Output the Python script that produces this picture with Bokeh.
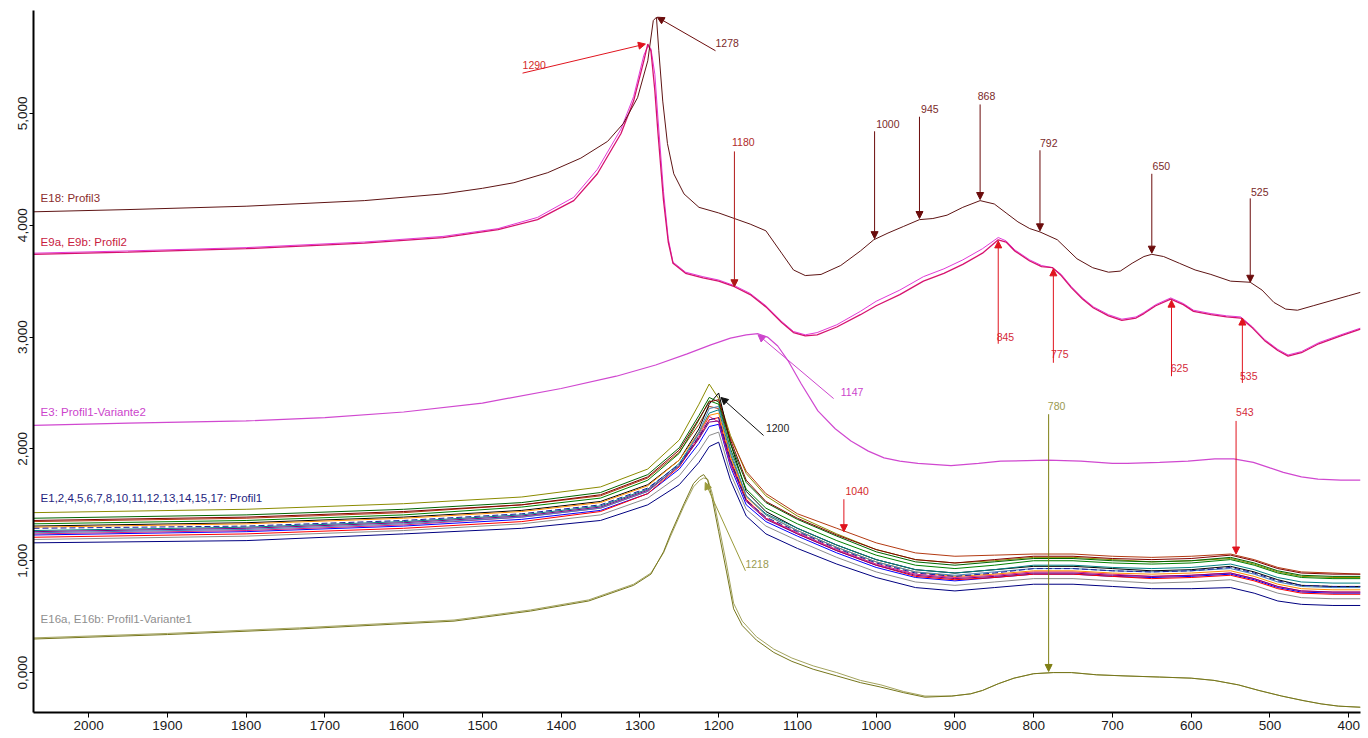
from bokeh.plotting import figure
from bokeh.models import Range1d, FixedTicker, Arrow, NormalHead, ColumnDataSource
from bokeh.core.properties import value
from bokeh.embed import file_html
from bokeh.resources import INLINE

# ---------------- axes ----------------
X_TICKS = [2000, 1900, 1800, 1700, 1600, 1500, 1400, 1300, 1200, 1100, 1000, 900, 800, 700, 600, 500, 400]
Y_TICKS = [0, 1, 2, 3, 4, 5]
Y_TICK_LABELS = ["0,000", "1,000", "2,000", "3,000", "4,000", "5,000"]

# ---------------- E18: Profil3 ----------------
W_E18 = [2070, 1950, 1800, 1650, 1550, 1500, 1460, 1417, 1375, 1341, 1321, 1303, 1290, 1283, 1279, 1276,
         1271, 1265, 1257, 1244, 1225, 1200, 1180, 1160, 1140, 1120, 1105, 1090, 1070, 1045, 1020, 1003,
         985, 965, 945, 928, 910, 890, 868, 850, 835, 820, 805, 792, 770, 745, 725, 705, 690, 675, 660,
         650, 635, 615, 595, 575, 550, 525, 510, 495, 480, 465, 445, 420, 400, 385]
V_E18 = [4.12, 4.14, 4.17, 4.22, 4.28, 4.33, 4.38, 4.47, 4.60, 4.75, 4.91, 5.14, 5.47, 5.83, 5.86, 5.56,
         5.11, 4.73, 4.46, 4.28, 4.16, 4.11, 4.06, 4.01, 3.95, 3.75, 3.60, 3.55, 3.56, 3.64, 3.77, 3.87,
         3.93, 3.99, 4.05, 4.06, 4.09, 4.16, 4.22, 4.19, 4.11, 4.03, 3.97, 3.94, 3.87, 3.70, 3.62, 3.58,
         3.59, 3.66, 3.72, 3.74, 3.72, 3.66, 3.60, 3.56, 3.50, 3.49, 3.42, 3.31, 3.25, 3.24, 3.28, 3.33,
         3.37, 3.40]

# ---------------- E9a, E9b: Profil2 ----------------
W_E9 = [2070, 1950, 1800, 1650, 1550, 1480, 1430, 1384, 1354, 1324, 1308, 1295, 1290, 1286, 1281, 1277,
        1270, 1264, 1258, 1242, 1220, 1200, 1180, 1160, 1140, 1120, 1105, 1090, 1075, 1050, 1020, 1000,
        970, 940, 914, 890, 865, 845, 835, 824, 805, 790, 776, 765, 752, 738, 724, 705, 688, 670, 660,
        645, 626, 610, 597, 575, 555, 537, 522, 507, 490, 477, 460, 438, 410, 385]
V_E9A = [3.74, 3.76, 3.79, 3.84, 3.89, 3.96, 4.05, 4.22, 4.46, 4.82, 5.11, 5.47, 5.62, 5.56, 5.20, 4.82,
         4.22, 3.85, 3.66, 3.57, 3.53, 3.50, 3.45, 3.38, 3.27, 3.13, 3.04, 3.01, 3.02, 3.09, 3.20, 3.28,
         3.38, 3.50, 3.57, 3.65, 3.75, 3.87, 3.85, 3.77, 3.68, 3.63, 3.62, 3.55, 3.44, 3.34, 3.26, 3.19,
         3.15, 3.17, 3.21, 3.28, 3.34, 3.29, 3.23, 3.20, 3.18, 3.17, 3.08, 2.97, 2.88, 2.83, 2.86, 2.94,
         3.01, 3.07]
V_E9B = [3.75, 3.77, 3.80, 3.85, 3.90, 3.97, 4.07, 4.25, 4.50, 4.86, 5.15, 5.52, 5.60, 5.58, 5.35, 4.95,
         4.30, 3.88, 3.67, 3.58, 3.54, 3.51, 3.46, 3.39, 3.28, 3.14, 3.05, 3.02, 3.04, 3.11, 3.23, 3.32,
         3.42, 3.54, 3.61, 3.69, 3.79, 3.89, 3.86, 3.78, 3.69, 3.64, 3.62, 3.56, 3.45, 3.35, 3.27, 3.20,
         3.16, 3.18, 3.22, 3.29, 3.35, 3.30, 3.24, 3.21, 3.19, 3.18, 3.09, 2.98, 2.89, 2.84, 2.87, 2.95,
         3.02, 3.08]

# ---------------- E3: Profil1-Variante2 ----------------
W_E3 = [2070, 1950, 1800, 1700, 1600, 1500, 1400, 1330, 1280, 1240, 1210, 1185, 1165, 1150, 1138, 1125,
        1112, 1095, 1074, 1052, 1032, 1010, 990, 970, 947, 905, 870, 842, 782, 740, 700, 681, 640, 604,
        570, 546, 521, 500, 483, 460, 439, 410, 385]
V_E3 = [2.21, 2.23, 2.25, 2.28, 2.33, 2.41, 2.54, 2.65, 2.75, 2.85, 2.93, 2.99, 3.02, 3.03, 3.00, 2.92,
        2.79, 2.58, 2.34, 2.18, 2.07, 1.98, 1.92, 1.89, 1.87, 1.85, 1.87, 1.89, 1.90, 1.89, 1.87, 1.87,
        1.88, 1.89, 1.91, 1.91, 1.88, 1.83, 1.79, 1.75, 1.73, 1.72, 1.72]

# ---------------- E16a, E16b: Profil1-Variante1 ----------------
W_E16 = [2070, 1900, 1732, 1536, 1439, 1365, 1308, 1286, 1270, 1261, 1244, 1232, 1224, 1219, 1214, 1208,
         1200, 1190, 1181, 1170, 1152, 1130, 1107, 1080, 1050, 1020, 994, 965, 938, 904, 880, 865, 845,
         825, 800, 775, 752, 720, 684, 640, 600, 571, 540, 514, 485, 458, 435, 413, 385]
V_E16A = [0.30, 0.34, 0.39, 0.46, 0.55, 0.64, 0.78, 0.88, 1.08, 1.24, 1.51, 1.69, 1.75, 1.77, 1.72, 1.55,
          1.26, 0.90, 0.57, 0.42, 0.29, 0.18, 0.10, 0.03, -0.03, -0.09, -0.13, -0.18, -0.22, -0.21, -0.19,
          -0.16, -0.10, -0.05, -0.01, 0.00, 0.00, -0.02, -0.03, -0.04, -0.05, -0.07, -0.11, -0.16, -0.21,
          -0.25, -0.28, -0.30, -0.31]
V_E16B = [0.31, 0.35, 0.40, 0.47, 0.56, 0.65, 0.79, 0.89, 1.07, 1.22, 1.49, 1.66, 1.72, 1.74, 1.73, 1.60,
          1.32, 0.97, 0.62, 0.46, 0.32, 0.21, 0.13, 0.06, 0.00, -0.07, -0.11, -0.17, -0.21, -0.21, -0.19,
          -0.16, -0.10, -0.05, -0.01, 0.00, 0.00, -0.02, -0.03, -0.04, -0.05, -0.07, -0.11, -0.16, -0.21,
          -0.25, -0.28, -0.30, -0.31]

# ---------------- E1..E17: Profil1 (cluster) ----------------
W_P1 = [2070, 1800, 1600, 1450, 1350, 1290, 1250, 1225, 1212, 1200, 1185, 1165, 1140, 1100, 1050, 1000,
        950, 900, 850, 800, 750, 700, 650, 600, 550, 520, 490, 460, 420, 385]
P1_A = [1.43, 1.46, 1.51, 1.57, 1.66, 1.82, 2.08, 2.40, 2.58, 2.45, 2.12, 1.78, 1.58, 1.40, 1.24, 1.10,
        1.01, 0.98, 1.00, 1.03, 1.03, 1.01, 0.99, 1.00, 1.02, 0.97, 0.90, 0.86, 0.85, 0.85]
P1_B = [1.35, 1.38, 1.43, 1.50, 1.58, 1.74, 1.97, 2.22, 2.38, 2.36, 2.10, 1.80, 1.60, 1.42, 1.29, 1.16,
        1.07, 1.04, 1.05, 1.06, 1.06, 1.04, 1.03, 1.04, 1.06, 1.01, 0.94, 0.90, 0.89, 0.88]
P1_C = [1.31, 1.34, 1.39, 1.45, 1.53, 1.68, 1.90, 2.18, 2.40, 2.50, 2.05, 1.62, 1.44, 1.29, 1.14, 1.01,
        0.92, 0.89, 0.92, 0.95, 0.95, 0.93, 0.91, 0.92, 0.95, 0.90, 0.83, 0.78, 0.77, 0.77]
P1_D = [1.16, 1.18, 1.24, 1.29, 1.36, 1.50, 1.68, 1.88, 2.02, 2.06, 1.72, 1.40, 1.24, 1.11, 0.97, 0.85,
        0.76, 0.73, 0.76, 0.79, 0.79, 0.77, 0.75, 0.75, 0.76, 0.71, 0.64, 0.61, 0.60, 0.60]
P1_E = [1.23, 1.26, 1.31, 1.37, 1.45, 1.60, 1.82, 2.05, 2.20, 2.22, 1.84, 1.50, 1.35, 1.22, 1.07, 0.94,
        0.85, 0.82, 0.85, 0.88, 0.88, 0.86, 0.85, 0.86, 0.88, 0.83, 0.76, 0.72, 0.71, 0.71]
P1_F = [1.21, 1.24, 1.29, 1.35, 1.44, 1.60, 1.84, 2.10, 2.26, 2.28, 1.90, 1.55, 1.38, 1.24, 1.09, 0.96,
        0.86, 0.83, 0.85, 0.88, 0.88, 0.86, 0.84, 0.85, 0.87, 0.82, 0.75, 0.71, 0.70, 0.70]
P1_G = [1.24, 1.27, 1.32, 1.39, 1.47, 1.62, 1.85, 2.12, 2.29, 2.24, 1.86, 1.54, 1.38, 1.25, 1.10, 0.97,
        0.88, 0.85, 0.87, 0.90, 0.90, 0.88, 0.86, 0.87, 0.89, 0.84, 0.77, 0.73, 0.72, 0.72]
P1_H = [1.27, 1.30, 1.35, 1.41, 1.49, 1.64, 1.87, 2.14, 2.32, 2.35, 1.95, 1.58, 1.42, 1.29, 1.14, 1.01,
        0.92, 0.89, 0.92, 0.96, 0.96, 0.94, 0.93, 0.94, 0.97, 0.92, 0.85, 0.81, 0.80, 0.80]
P1_I = [1.33, 1.36, 1.41, 1.48, 1.56, 1.72, 1.96, 2.26, 2.43, 2.40, 2.00, 1.64, 1.47, 1.33, 1.18, 1.05,
        0.96, 0.93, 0.96, 1.00, 1.00, 0.98, 0.97, 0.98, 1.01, 0.96, 0.89, 0.85, 0.84, 0.84]
P1_J = [1.30, 1.33, 1.38, 1.44, 1.52, 1.67, 1.90, 2.15, 2.30, 2.32, 1.93, 1.57, 1.41, 1.27, 1.12, 0.99,
        0.90, 0.86, 0.88, 0.91, 0.91, 0.89, 0.88, 0.89, 0.91, 0.86, 0.79, 0.75, 0.74, 0.74]
P1_K = [1.26, 1.29, 1.34, 1.40, 1.48, 1.63, 1.85, 2.09, 2.24, 2.25, 1.88, 1.53, 1.37, 1.24, 1.09, 0.96,
        0.87, 0.84, 0.86, 0.89, 0.89, 0.87, 0.86, 0.87, 0.89, 0.84, 0.77, 0.73, 0.72, 0.72]
P1_L = [1.19, 1.22, 1.27, 1.33, 1.41, 1.56, 1.76, 1.98, 2.12, 2.15, 1.78, 1.46, 1.31, 1.18, 1.03, 0.90,
        0.81, 0.78, 0.81, 0.84, 0.84, 0.82, 0.80, 0.81, 0.83, 0.78, 0.71, 0.67, 0.66, 0.66]
P1_M = [1.25, 1.28, 1.33, 1.39, 1.47, 1.62, 1.85, 2.15, 2.36, 2.38, 1.98, 1.58, 1.41, 1.27, 1.12, 0.99,
        0.90, 0.87, 0.90, 0.93, 0.93, 0.91, 0.90, 0.91, 0.93, 0.88, 0.81, 0.77, 0.76, 0.76]
P1_N = [1.38, 1.41, 1.46, 1.52, 1.61, 1.77, 2.01, 2.30, 2.46, 2.42, 2.05, 1.70, 1.52, 1.37, 1.22, 1.08,
        0.99, 0.96, 0.99, 1.02, 1.02, 1.00, 0.99, 1.00, 1.03, 0.98, 0.91, 0.87, 0.86, 0.86]
P1_O = [1.36, 1.39, 1.44, 1.50, 1.59, 1.75, 1.99, 2.27, 2.42, 2.44, 2.08, 1.72, 1.53, 1.38, 1.23, 1.10,
        1.01, 0.98, 1.01, 1.04, 1.04, 1.02, 1.01, 1.02, 1.05, 1.00, 0.93, 0.89, 0.88, 0.88]
P1_P = [1.29, 1.31, 1.36, 1.42, 1.50, 1.65, 1.86, 2.11, 2.26, 2.28, 1.90, 1.54, 1.39, 1.26, 1.11, 0.98,
        0.89, 0.86, 0.89, 0.93, 0.93, 0.91, 0.90, 0.91, 0.94, 0.89, 0.82, 0.78, 0.77, 0.77]
P1_SERIES = [P1_A, P1_B, P1_C, P1_D, P1_E, P1_F, P1_G, P1_H, P1_I, P1_J, P1_K, P1_L, P1_M, P1_N, P1_O, P1_P]

# ---------------- series labels ----------------
SERIES_LABELS = ["E18: Profil3", "E9a, E9b: Profil2", "E3: Profil1-Variante2",
                 "E1,2,4,5,6,7,8,10,11,12,13,14,15,17: Profil1", "E16a, E16b: Profil1-Variante1"]
SERIES_LABEL_X = [2061, 2061, 2061, 2061, 2061]
SERIES_LABEL_Y = [4.245, 3.85, 2.33, 1.565, 0.475]

# ---------------- peak annotations ----------------
ANN_TEXT = ["1290", "1278", "1180", "1000", "945", "868", "792", "650", "525",
            "845", "775", "625", "535", "1147", "1200", "1040", "1218", "780", "543"]
ANN_X_START = [1449, 1204, 1180, 1002, 945, 868, 792, 650, 525,
               845, 775, 625, 535, 1054, 1143, 1041, 1166, 781, 543]
ANN_Y_START = [5.36, 5.56, 4.66, 4.84, 4.97, 5.08, 4.67, 4.46, 4.24,
               2.94, 2.77, 2.65, 2.59, 2.45, 2.12, 1.55, 0.91, 2.31, 2.25]
ANN_X_TIP = [1293, 1278, 1180, 1002, 945, 868, 792, 650, 525,
             845, 775, 625, 535, 1150, 1197, 1041, 1217, 781, 543]
ANN_Y_TIP = [5.62, 5.86, 3.45, 3.88, 4.06, 4.23, 3.95, 3.75, 3.49,
             3.86, 3.61, 3.33, 3.17, 3.02, 2.46, 1.26, 1.70, 0.01, 1.06]
ANN_LABEL_X = [1449, 1204, 1183, 1000, 943, 871, 792, 649, 524,
               847, 778, 626, 538, 1045, 1140, 1039, 1166, 782, 543]
ANN_LABEL_Y = [5.43, 5.625, 4.745, 4.906, 5.04, 5.156, 4.736, 4.53, 4.30,
               3.00, 2.85, 2.72, 2.65, 2.51, 2.19, 1.626, 0.97, 2.38, 2.33]

# ---------------- styling ----------------
C_E18 = "#5e1414"
C_E9A = "#d6126e"
C_E9B = "#e23ad8"
C_E3 = "#d048d0"
C_E16A = "#76761c"
C_E16B = "#a3a35e"
P1_COLORS = ["#8b8b00", "#b33a12", "#000000", "#000080", "#0000ff", "#ff0000", "#e0207a", "#008080",
             "#008000", "#ff8c00", "#800080", "#8c8c8c", "#4682b4", "#006400", "#800000", "#1c1c9c"]
P1_DASH = ["solid"] * 15 + ["6 3"]
SERIES_LABEL_COLORS = ["#8b2d2d", "#c8203e", "#cc44cc", "#1e1e80", "#8f8f8f"]
ANN_LINE_COLORS = ["#e0141e", "#6b0c0c", "#b01818", "#6b0c0c", "#6b0c0c", "#6b0c0c", "#6b0c0c", "#6b0c0c", "#6b0c0c",
                   "#e0141e", "#e0141e", "#e0141e", "#e0141e", "#cc44cc", "#111111", "#e0141e", "#9a9a3a", "#7f7f14", "#e0141e"]
ANN_TEXT_COLORS = ["#d42a2a", "#7b2a2a", "#b02a2a", "#7b2a2a", "#7b2a2a", "#7b2a2a", "#7b2a2a", "#7b2a2a", "#7b2a2a",
                   "#d42a3a", "#d42a3a", "#d42a3a", "#d42a3a", "#cc44cc", "#222222", "#d42a2a", "#9a9a50", "#9a9a50", "#d42a3a"]

FONT = "Liberation Sans"

p = figure(width=1368, height=738, output_backend="svg", toolbar_location=None,
           x_range=Range1d(2070, 385), y_range=Range1d(-0.357, 5.92),
           min_border_left=33, min_border_right=8, min_border_top=10, min_border_bottom=26)
p.grid.visible = False
p.outline_line_color = None
p.background_fill_color = "white"
p.border_fill_color = "white"

for ax in (p.xaxis[0], p.yaxis[0]):
    ax.axis_line_width = 2
    ax.axis_line_color = "black"
    ax.major_tick_in = 0
    ax.minor_tick_in = 0
    ax.minor_tick_out = 0
    ax.major_tick_line_color = "black"
    ax.major_label_text_font = FONT
    ax.major_label_text_font_size = "13.5px"
    ax.major_label_text_color = "#1a1a1a"

p.xaxis.ticker = FixedTicker(ticks=X_TICKS)
p.xaxis.major_tick_out = 5
p.xaxis.major_label_standoff = 3
p.yaxis.ticker = FixedTicker(ticks=Y_TICKS)
p.yaxis.major_label_overrides = {t: s for t, s in zip(Y_TICKS, Y_TICK_LABELS)}
p.yaxis.major_label_orientation = "vertical"
p.yaxis.major_tick_out = 4
p.yaxis.major_label_standoff = 2

# cluster first (underneath)
for ys, col, dash in zip(P1_SERIES, P1_COLORS, P1_DASH):
    p.line(W_P1, ys, line_color=col, line_width=1, line_dash=dash)

p.line(W_E16, V_E16B, line_color=C_E16B, line_width=1)
p.line(W_E16, V_E16A, line_color=C_E16A, line_width=1)
p.line(W_E3, V_E3, line_color=C_E3, line_width=1.2)
p.line(W_E9, V_E9B, line_color=C_E9B, line_width=1)
p.line(W_E9, V_E9A, line_color=C_E9A, line_width=1.3)
p.line(W_E18, V_E18, line_color=C_E18, line_width=1)

# arrows
for xs, ys, xt, yt, col in zip(ANN_X_START, ANN_Y_START, ANN_X_TIP, ANN_Y_TIP, ANN_LINE_COLORS):
    p.add_layout(Arrow(end=NormalHead(size=7, fill_color=col, line_color=col, line_width=1),
                       x_start=xs, y_start=ys, x_end=xt, y_end=yt,
                       line_color=col, line_width=1))

ann_src = ColumnDataSource(dict(x=ANN_LABEL_X, y=ANN_LABEL_Y, t=ANN_TEXT, c=ANN_TEXT_COLORS))
p.text(x="x", y="y", text="t", text_color="c", source=ann_src,
       text_font=value(FONT), text_font_size=value("10.5px"),
       text_align="left", text_baseline="middle")

lab_src = ColumnDataSource(dict(x=SERIES_LABEL_X, y=SERIES_LABEL_Y, t=SERIES_LABELS, c=SERIES_LABEL_COLORS))
p.text(x="x", y="y", text="t", text_color="c", source=lab_src,
       text_font=value(FONT), text_font_size=value("11.5px"),
       text_align="left", text_baseline="middle")

open("out.html", "w").write(file_html(p, INLINE))
